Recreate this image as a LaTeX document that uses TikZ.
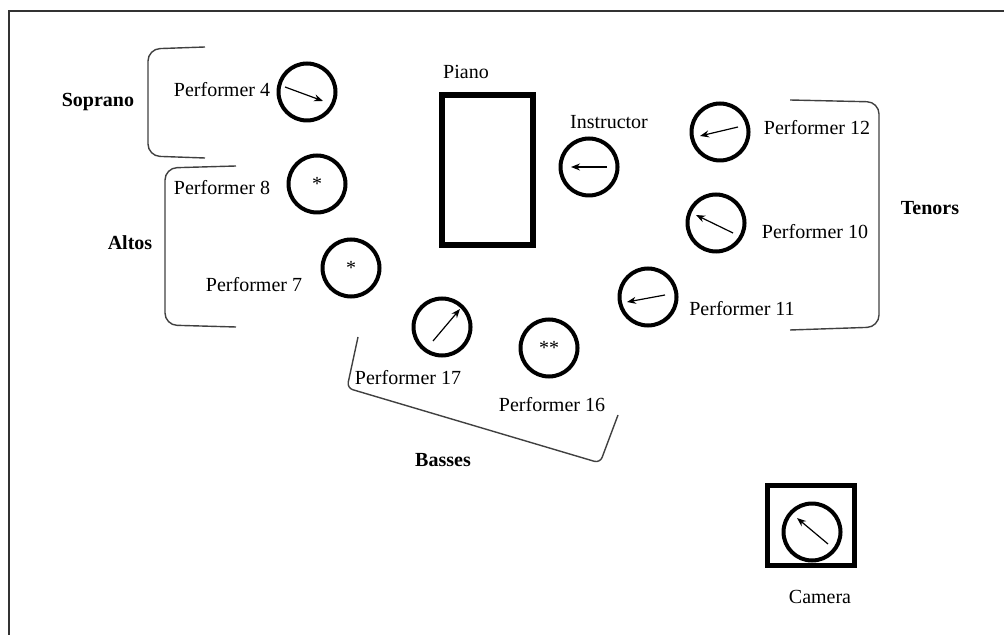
\documentclass[tikz,border=0pt]{standalone}
\usepackage{fontspec}
\setmainfont{Liberation Serif}
\usetikzlibrary{arrows.meta}
\tikzset{
  singer/.style={draw, circle, line width=2pt, minimum size=28.5pt, inner sep=0pt},
  lab/.style={font=\fontsize{10}{12}\selectfont, inner sep=0pt},
  grp/.style={font=\fontsize{10}{12}\selectfont\bfseries, inner sep=0pt},
  facing/.style={-{Stealth[length=4.5pt,width=3.5pt]}, line width=0.6pt},
  brace/.style={line width=0.7pt, draw=black!75, rounded corners=6}
}
\begin{document}
\begin{tikzpicture}[x=0.5pt,y=-0.5pt]
  \useasboundingbox (0,0) rectangle (1004,635);
  \draw[line width=0.9pt, black!80] (9,635) -- (9,11) -- (1004,11);
  % piano
  \node[draw, line width=3pt, minimum width=45.5pt, minimum height=75pt, inner sep=0pt] (piano) at (487,170) {};
  \node[lab] (pianolab) at (466,72) {Piano};
  % instructor
  \node[singer] (instr) at (589,167) {};
  \node[lab] (instrlab) at (609,122) {Instructor};
  \draw[facing] ([shift={(18,0)}]instr.center) -- ([shift={(-18,0)}]instr.center);
  % sopranos
  \node[singer] (p4) at (307,92) {};
  \node[lab] (p4lab) at (222,90) {Performer 4};
  \draw[facing] ([shift={(-22,-5)}]p4.center) -- ([shift={(16,9)}]p4.center);
  % altos
  \node[singer] (p8) at (317,184) {\fontsize{10}{12}\selectfont *};
  \node[lab] (p8lab) at (222,188) {Performer 8};
  \node[singer] (p7) at (351,268) {\fontsize{10}{12}\selectfont *};
  \node[lab] (p7lab) at (254,285) {Performer 7};
  % tenors
  \node[singer] (p12) at (720,132) {};
  \node[lab] (p12lab) at (817,128) {Performer 12};
  \draw[facing] ([shift={(18,-5)}]p12.center) -- ([shift={(-20,4)}]p12.center);
  \node[singer] (p10) at (716,223) {};
  \node[lab] (p10lab) at (815,232) {Performer 10};
  \draw[facing] ([shift={(17,10)}]p10.center) -- ([shift={(-20,-8)}]p10.center);
  \node[singer] (p11) at (648,297) {};
  \node[lab] (p11lab) at (742,309) {Performer 11};
  \draw[facing] ([shift={(17,-2)}]p11.center) -- ([shift={(-21,5)}]p11.center);
  % basses
  \node[singer] (p17) at (442,327) {};
  \node[lab] (p17lab) at (408,378) {Performer 17};
  \draw[facing] ([shift={(-9,14)}]p17.center) -- ([shift={(18,-18)}]p17.center);
  \node[singer] (p16) at (549,348) {\fontsize{10}{12}\selectfont **};
  \node[lab] (p16lab) at (552,405) {Performer 16};
  % camera
  \node[draw, line width=2.5pt, minimum width=43.75pt, minimum height=40pt, inner sep=0pt] (cambox) at (811,525) {};
  \node[singer] (cam) at (812,532) {};
  \node[lab] (camlab) at (820,597) {Camera};
  \draw[facing] ([shift={(16,12)}]cam.center) -- ([shift={(-15,-14)}]cam.center);
  % section brackets
  \draw[brace] (205,47) -- (148,49) -- (148,156) -- (205,158);
  \node[grp] (soprano) at (98,102) {Soprano};
  \draw[brace] (236,166) -- (165,168) -- (165,325) -- (236,327);
  \node[grp] (altos) at (130,243) {Altos};
  \draw[brace] (790,100) -- (879,102) -- (879,327) -- (790,330);
  \node[grp] (tenors) at (930,208) {Tenors};
  \draw[brace, rounded corners=3] (358,337) -- (347,388) -- (600,463) -- (618,415);
  \node[grp] (basses) at (443,460) {Basses};
\end{tikzpicture}
\end{document}
